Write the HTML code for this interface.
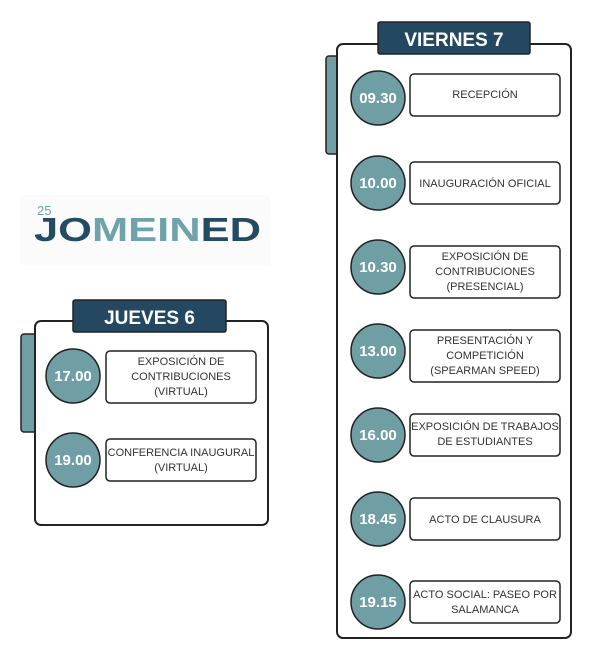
<!DOCTYPE html>
<html><head><meta charset="utf-8"><style>
html,body{margin:0;padding:0;background:#fff;}
svg{display:block;font-family:"Liberation Sans",sans-serif;}
</style></head><body>
<svg width="600" height="669" viewBox="0 0 600 669" xmlns="http://www.w3.org/2000/svg">
<rect x="20" y="195" width="250" height="70" fill="#fbfbfb"/>
<text x="37" y="215" font-size="13" fill="#6fa3aa">25</text>
<text x="34" y="241" font-size="33" font-weight="600" textLength="227" lengthAdjust="spacingAndGlyphs"><tspan fill="#244b64">JO</tspan><tspan fill="#6fa3aa">MEIN</tspan><tspan fill="#244b64">ED</tspan></text>

<!-- JUEVES -->
<rect x="21" y="334" width="18" height="98" rx="3" fill="#6f9ea5" stroke="#222" stroke-width="1.5"/>
<rect x="35" y="321" width="233" height="204" rx="6" fill="#fff" stroke="#222" stroke-width="2"/>
<rect x="73" y="300" width="153" height="32" rx="2" fill="#244862" stroke="#222" stroke-width="1.5"/>
<text x="149.5" y="324" font-size="19" font-weight="bold" fill="#fff" text-anchor="middle">JUEVES 6</text>
<g font-size="11" fill="#333" text-anchor="middle">
<rect x="106" y="351" width="150" height="52" rx="4" fill="#fff" stroke="#222" stroke-width="1.5"/>
<text x="181" y="365">EXPOSICIÓN DE</text><text x="181" y="380">CONTRIBUCIONES</text><text x="181" y="395">(VIRTUAL)</text>
<rect x="106" y="439" width="150" height="42" rx="4" fill="#fff" stroke="#222" stroke-width="1.5"/>
<text x="181" y="456">CONFERENCIA INAUGURAL</text><text x="181" y="471">(VIRTUAL)</text>
</g>
<g font-size="15" font-weight="600" fill="#fff" text-anchor="middle">
<circle cx="73" cy="376" r="27" fill="#6f9ea5" stroke="#222" stroke-width="1.5"/><text x="73" y="381">17.00</text>
<circle cx="73" cy="460" r="27" fill="#6f9ea5" stroke="#222" stroke-width="1.5"/><text x="73" y="465">19.00</text>
</g>

<!-- VIERNES -->
<rect x="326" y="56" width="18" height="98" rx="3" fill="#6f9ea5" stroke="#222" stroke-width="1.5"/>
<rect x="337" y="44" width="234" height="594" rx="6" fill="#fff" stroke="#222" stroke-width="2"/>
<rect x="378" y="22" width="152" height="32" rx="2" fill="#244862" stroke="#222" stroke-width="1.5"/>
<text x="454" y="46" font-size="19" font-weight="bold" fill="#fff" text-anchor="middle">VIERNES 7</text>
<g font-size="11" fill="#333" text-anchor="middle">
<rect x="410" y="74" width="150" height="42" rx="4" fill="#fff" stroke="#222" stroke-width="1.5"/>
<text x="485" y="98">RECEPCIÓN</text>
<rect x="410" y="162" width="150" height="42" rx="4" fill="#fff" stroke="#222" stroke-width="1.5"/>
<text x="485" y="187">INAUGURACIÓN OFICIAL</text>
<rect x="410" y="246" width="150" height="52" rx="4" fill="#fff" stroke="#222" stroke-width="1.5"/>
<text x="485" y="260">EXPOSICIÓN DE</text><text x="485" y="275">CONTRIBUCIONES</text><text x="485" y="290">(PRESENCIAL)</text>
<rect x="410" y="330" width="150" height="52" rx="4" fill="#fff" stroke="#222" stroke-width="1.5"/>
<text x="485" y="344">PRESENTACIÓN Y</text><text x="485" y="359">COMPETICIÓN</text><text x="485" y="374">(SPEARMAN SPEED)</text>
<rect x="410" y="414" width="150" height="42" rx="4" fill="#fff" stroke="#222" stroke-width="1.5"/>
<text x="485" y="430">EXPOSICIÓN DE TRABAJOS</text><text x="485" y="445">DE ESTUDIANTES</text>
<rect x="410" y="498" width="150" height="42" rx="4" fill="#fff" stroke="#222" stroke-width="1.5"/>
<text x="485" y="523">ACTO DE CLAUSURA</text>
<rect x="410" y="581" width="150" height="42" rx="4" fill="#fff" stroke="#222" stroke-width="1.5"/>
<text x="485" y="598">ACTO SOCIAL: PASEO POR</text><text x="485" y="613">SALAMANCA</text>
</g>
<g font-size="15" font-weight="600" fill="#fff" text-anchor="middle">
<circle cx="378" cy="98" r="27" fill="#6f9ea5" stroke="#222" stroke-width="1.5"/><text x="378" y="103">09.30</text>
<circle cx="378" cy="183" r="27" fill="#6f9ea5" stroke="#222" stroke-width="1.5"/><text x="378" y="188">10.00</text>
<circle cx="378" cy="267" r="27" fill="#6f9ea5" stroke="#222" stroke-width="1.5"/><text x="378" y="272">10.30</text>
<circle cx="378" cy="351" r="27" fill="#6f9ea5" stroke="#222" stroke-width="1.5"/><text x="378" y="356">13.00</text>
<circle cx="378" cy="435" r="27" fill="#6f9ea5" stroke="#222" stroke-width="1.5"/><text x="378" y="440">16.00</text>
<circle cx="378" cy="519" r="27" fill="#6f9ea5" stroke="#222" stroke-width="1.5"/><text x="378" y="524">18.45</text>
<circle cx="378" cy="602" r="27" fill="#6f9ea5" stroke="#222" stroke-width="1.5"/><text x="378" y="607">19.15</text>
</g>
</svg>
</body></html>
